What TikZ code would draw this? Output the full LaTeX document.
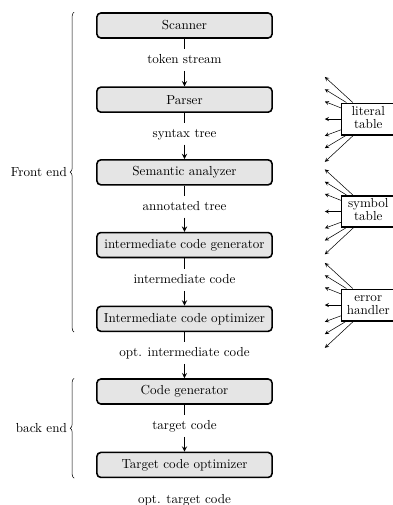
\documentclass[tikz,border=0pt]{standalone}
\usepackage{amsmath}
\usepackage{tikz}
\usetikzlibrary{arrows,decorations.pathreplacing}
\renewcommand{\arraystretch}{0.85}
\newcommand{\tabtext}[2]{\makebox[1.36cm]{\begin{tabular}{@{}c@{}}#1\\#2\end{tabular}}\hspace{0.6cm}}

\begin{document}
\begin{tikzpicture}[thick,>=stealth]
    \useasboundingbox (-4.95,0.684) rectangle (5.594,-12.865);

    \tikzset{
      stage/.style={draw, very thick, rounded corners=3pt, fill=gray!20, minimum width=4.7cm, minimum height=0.67cm, inner sep=0pt},
      datum/.style={inner sep=4pt, text height=1.5ex, text depth=0.25ex},
      tabbox/.style={draw, very thick, fill=white, anchor=west, minimum height=0.845cm, inner xsep=1pt, inner ysep=1pt},
      fan/.style={->, thin},
      curly/.style={decorate, decoration={brace, amplitude=3pt}, thin}
    }

    % phases
    \node[stage] (scan) at (0, 0) {Scanner};
    \node[datum] (ts) at (0, -0.93) {token stream};
    \node[stage] (parse) at (0, -1.99) {Parser};
    \node[datum] (st) at (0, -2.91) {syntax tree};
    \node[stage] (sema) at (0, -3.94) {Semantic analyzer};
    \node[datum] (at) at (0, -4.87) {annotated tree};
    \node[stage] (icg) at (0, -5.89) {intermediate code generator};
    \node[datum] (ic) at (0, -6.83) {intermediate code};
    \node[stage] (ico) at (0, -7.87) {Intermediate code optimizer};
    \node[datum] (oic) at (0, -8.79) {opt. intermediate code};
    \node[stage] (cg) at (0, -9.82) {Code generator};
    \node[datum] (tc) at (0, -10.75) {target code};
    \node[stage] (tco) at (0, -11.79) {Target code optimizer};
    \node[datum] (otc) at (0, -12.73) {opt. target code};

    \draw (scan) -- (ts); \draw[->] (ts) -- (parse);
    \draw (parse) -- (st); \draw[->] (st) -- (sema);
    \draw (sema) -- (at); \draw[->] (at) -- (icg);
    \draw (icg) -- (ic); \draw[->] (ic) -- (ico);
    \draw (ico) -- (oic); \draw[->] (oic) -- (cg);
    \draw (cg) -- (tc); \draw[->] (tc) -- (tco);

    % front / back
    \draw[curly] ([xshift=-0.59cm]ico.south west) -- node[left=2pt] {Front end} ([xshift=-0.59cm]scan.north west);
    \draw[curly] ([xshift=-0.59cm]tco.south west) -- node[left=2pt] {back end} ([xshift=-0.59cm]cg.north west);

    % tables (cut off at the right edge)
    \node[tabbox] (lit) at (4.195, -2.51) {\tabtext{literal}{table}};
    \node[tabbox] (sym) at (4.195, -4.99) {\tabtext{symbol}{table}};
    \node[tabbox] (err) at (4.195, -7.50) {\tabtext{error}{handler}};

    \foreach \tab in {lit,sym,err}{
      \foreach \k/\from/\sx/\sy/\dy in {a/north west/0.32/0/1.13, b/north west/0.15/0/0.8, c/west/0/0.3/0.47, d/west/0/0/0,
                                        e/west/0/-0.29/-0.45, f/south west/0.13/0/-0.78, g/south west/0.33/0/-1.15}{
        \coordinate (\tab-\k) at ([xshift=-0.43cm,yshift=\dy cm]\tab.west);
        \draw[fan] ([xshift=\sx cm,yshift=\sy cm]\tab.\from) -- (\tab-\k);
      }
    }

\end{tikzpicture}
\end{document}
